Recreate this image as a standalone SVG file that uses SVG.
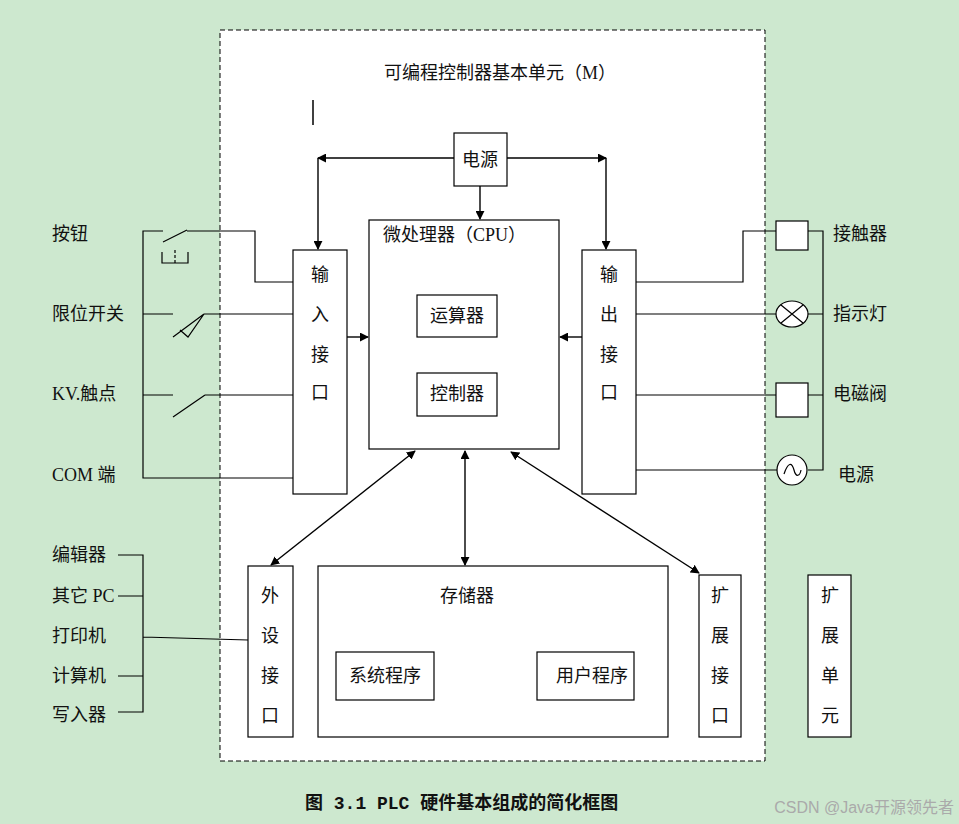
<svg xmlns="http://www.w3.org/2000/svg" width="959" height="824" viewBox="0 0 959 824">
<defs>
<style>
.t{font-family:"Liberation Serif","Noto Sans CJK SC",serif;font-size:18px;fill:#111}
.b{fill:#fff;stroke:#000;stroke-width:1.2}
.l{fill:none;stroke:#000;stroke-width:1.2}
.a{fill:none;stroke:#000;stroke-width:1.4}
</style>
<marker id="ar" viewBox="0 0 10 10" refX="9" refY="5" markerWidth="9" markerHeight="9" markerUnits="userSpaceOnUse" orient="auto-start-reverse"><path d="M0,0L10,5L0,10z" fill="#000"/></marker>
</defs>
<rect width="959" height="824" fill="#cde8cf"/>
<rect x="220" y="30" width="545" height="731" fill="#fff" stroke="#000" stroke-dasharray="5,3"/>
<text class="t" x="500" y="79" text-anchor="middle">可编程控制器基本单元（M）</text>
<line x1="313" y1="100" x2="313" y2="125" stroke="#000" stroke-width="1.5"/>

<g id="power"><rect class="b" x="454" y="133" width="53" height="53"/><text class="t" x="480" y="166" text-anchor="middle">电源</text></g>
<g id="cpu"><rect class="b" x="369" y="220" width="190" height="229"/><text class="t" x="383" y="241">微处理器（CPU）</text>
<rect class="b" x="417" y="295" width="80" height="42"/><text class="t" x="457" y="322" text-anchor="middle">运算器</text>
<rect class="b" x="417" y="373" width="80" height="43"/><text class="t" x="457" y="400" text-anchor="middle">控制器</text></g>
<g id="in"><rect class="b" x="293" y="250" width="54" height="244"/>
<text class="t" x="320" text-anchor="middle"><tspan y="281">输</tspan><tspan x="320" y="321">入</tspan><tspan x="320" y="361">接</tspan><tspan x="320" y="399">口</tspan></text></g>
<g id="out"><rect class="b" x="582" y="250" width="54" height="244"/>
<text class="t" x="609" text-anchor="middle"><tspan y="281">输</tspan><tspan x="609" y="321">出</tspan><tspan x="609" y="361">接</tspan><tspan x="609" y="399">口</tspan></text></g>
<g id="periph"><rect class="b" x="248" y="566" width="45" height="171"/>
<text class="t" x="270" text-anchor="middle"><tspan y="602">外</tspan><tspan x="270" y="642">设</tspan><tspan x="270" y="682">接</tspan><tspan x="270" y="722">口</tspan></text></g>
<g id="mem"><rect class="b" x="318" y="566" width="350" height="171"/><text class="t" x="467" y="602" text-anchor="middle">存储器</text>
<rect class="b" x="336" y="652" width="98" height="48"/><text class="t" x="385" y="682" text-anchor="middle">系统程序</text>
<rect class="b" x="537" y="652" width="97" height="48"/><text class="t" x="592" y="682" text-anchor="middle">用户程序</text></g>
<g id="expif"><rect class="b" x="699" y="575" width="42" height="162"/>
<text class="t" x="720" text-anchor="middle"><tspan y="602">扩</tspan><tspan x="720" y="642">展</tspan><tspan x="720" y="682">接</tspan><tspan x="720" y="722">口</tspan></text></g>
<g id="expunit"><rect class="b" x="808" y="575" width="43" height="162"/>
<text class="t" x="830" text-anchor="middle"><tspan y="602">扩</tspan><tspan x="830" y="642">展</tspan><tspan x="830" y="682">单</tspan><tspan x="830" y="722">元</tspan></text></g>

<g id="connectors">
<path class="a" d="M454,158H318" marker-end="url(#ar)"/>
<path class="a" d="M318,158V249" marker-end="url(#ar)"/>
<path class="a" d="M507,158H606" marker-end="url(#ar)"/>
<path class="a" d="M606,158V249" marker-end="url(#ar)"/>
<path class="a" d="M480,186V219" marker-end="url(#ar)"/>
<path class="a" d="M347,337H368" marker-end="url(#ar)"/>
<path class="a" d="M582,337H560" marker-end="url(#ar)"/>
<path class="a" d="M415,451L271,565" marker-start="url(#ar)" marker-end="url(#ar)"/>
<path class="a" d="M465,451V565" marker-start="url(#ar)" marker-end="url(#ar)"/>
<path class="a" d="M511,452L699,573" marker-start="url(#ar)" marker-end="url(#ar)"/>
<path class="l" d="M163,231H143V478H293"/>
<path class="l" d="M163,242L187,230M187,231H255V282H293"/>
<path class="l" d="M162,252V263H188V252"/>
<path class="l" d="M175,250V263" stroke-dasharray="3,2"/>
<path class="l" d="M143,314H173M173,337L204,314M180,330L188,337L204,314M204,314H293"/>
<path class="l" d="M143,395H173M173,417L205,395M205,395H293"/>
<path class="l" d="M636,282H743V231H776"/>
<rect class="b" x="776" y="221" width="32" height="29"/>
<path class="l" d="M808,231H823V470H808M808,314H823M808,395H823"/>
<path class="l" d="M636,314H776"/>
<ellipse class="b" cx="792" cy="314" rx="16" ry="13"/>
<path class="l" d="M781,305L803,323M803,305L781,323"/>
<path class="l" d="M636,395H776"/>
<rect class="b" x="776" y="383" width="32" height="34"/>
<path class="l" d="M636,470H777"/>
<circle class="b" cx="792" cy="470" r="15"/>
<path class="l" d="M784,474C788,462 792,462 794,470S800,476 801,470"/>
<path class="l" d="M118,555H143V712H118M118,596H143M118,676H143M143,637L248,640"/>
</g>
<g class="t">
<text x="52" y="240">按钮</text><text x="52" y="320">限位开关</text><text x="52" y="400">KV.触点</text><text x="52" y="481">COM 端</text>
<text x="833" y="240">接触器</text><text x="833" y="320">指示灯</text><text x="833" y="400">电磁阀</text><text x="838" y="481">电源</text>
<text x="52" y="561">编辑器</text><text x="52" y="602">其它 PC</text><text x="52" y="642">打印机</text><text x="52" y="682">计算机</text><text x="52" y="721">写入器</text>
</g>
<text x="305" y="809" style="font-family:'Liberation Mono','Noto Sans CJK SC',monospace;font-size:18px;font-weight:bold" fill="#111">图 3.1  PLC 硬件基本组成的简化框图</text>
<text x="954" y="813" text-anchor="end" style="font-family:'Liberation Sans','Noto Sans CJK SC',sans-serif;font-size:16px" fill="#aaa">CSDN @Java开源领先者</text>
</svg>
